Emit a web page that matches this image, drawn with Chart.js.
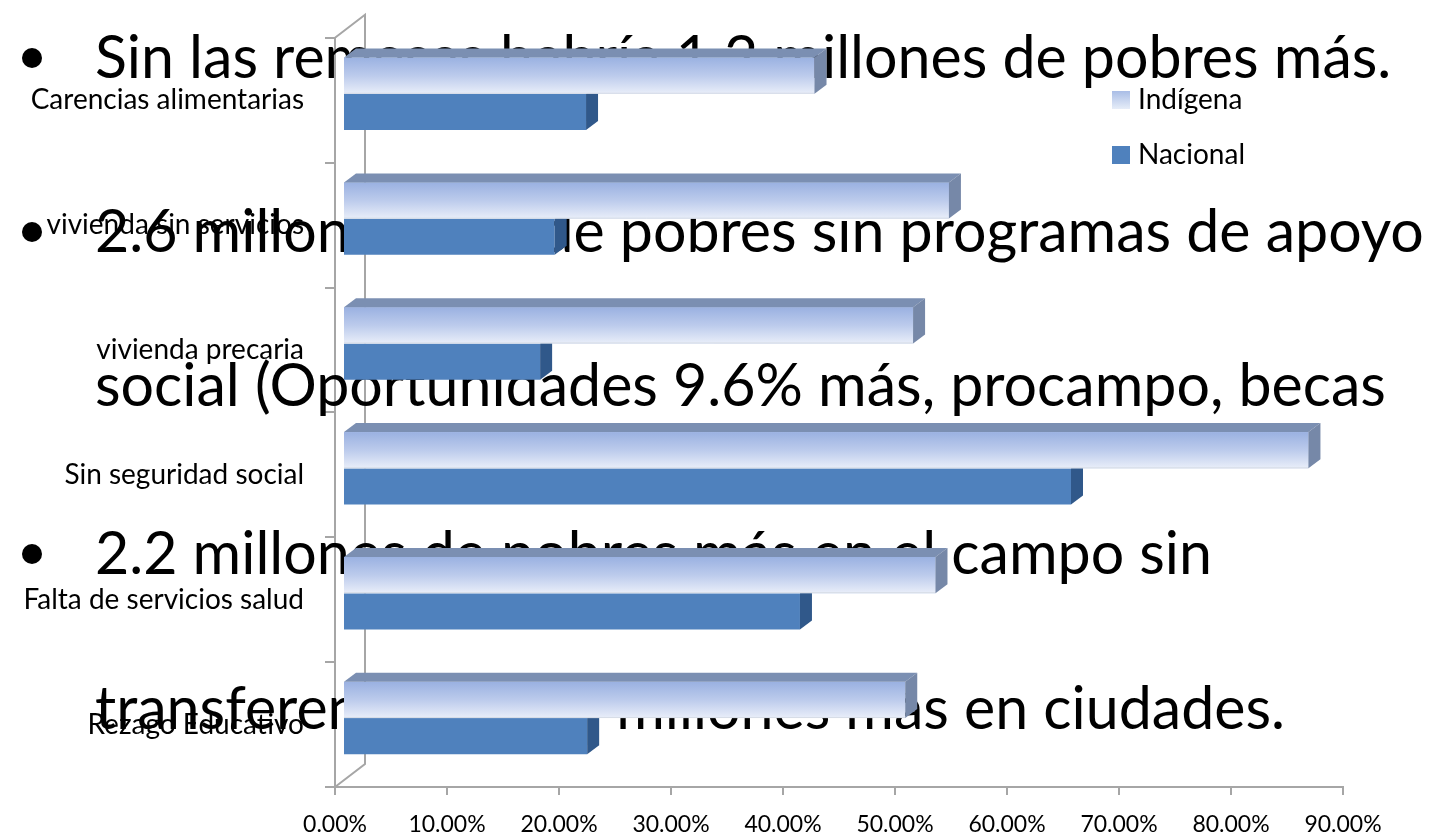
<!DOCTYPE html>
<html>
<head>
<meta charset="utf-8">
<script src="https://cdn.jsdelivr.net/npm/chart.js@4.4.1/dist/chart.umd.min.js"></script>
<style>
  html, body { margin: 0; padding: 0; background: #fff; }
  #chart { display: block; }
</style>
</head>
<body>
<canvas id="chart" width="1437" height="840"></canvas>
<script>
const categories = [
    'Carencias alimentarias',
    'vivienda sin servicios',
    'vivienda precaria',
    'Sin seguridad social',
    'Falta de servicios salud',
    'Rezago Educativo',
];
const indigena = [42.1, 54.1, 50.9, 86.2, 52.9, 50.2];
const nacional = [21.7, 18.9, 17.6, 65.0, 40.8, 21.8];
const tickValues = [0, 10, 20, 30, 40, 50, 60, 70, 80, 90];

// slide text sitting behind the bars
const slideLines = [
    'Sin las remesas habría 1.2 millones de pobres más.',
    '2.6 millones más de pobres sin programas de apoyo',
    'social (Oportunidades 9.6% más, procampo, becas',
    '2.2 millones de pobres más en el campo sin',
    'transferencias y 1.4 millones más en ciudades.',
];
const slideBullets = [true, true, false, true, false];
const slideBaselines = [78, 252, 406, 574, 729];

const grey = '#a6a6a6';
const depth = { x: 12, y: 9 };      // bar 3d depth
const wall = { x: 30, y: 23 };      // left wall depth
const shift = { x: 8, y: -6.5 };    // bars sit inside the box

const threeD = {
    id: 'threeD',
    beforeDatasetsDraw(chart) {
        const ctx = chart.ctx;
        const a = chart.chartArea;
        ctx.save();
        // left wall
        ctx.strokeStyle = grey;
        ctx.lineWidth = 2;
        ctx.beginPath();
        ctx.moveTo(a.left, a.top);
        ctx.lineTo(a.left + wall.x, a.top - wall.y);
        ctx.lineTo(a.left + wall.x, a.bottom - wall.y);
        ctx.lineTo(a.left, a.bottom);
        ctx.stroke();

        // slide text
        ctx.fillStyle = '#000';
        ctx.font = '54px Lato';
        const w = ctx.measureText(slideLines[1]).width;
        const fs = 54 * 1330 / w;
        ctx.font = fs.toFixed(1) + 'px Lato';
        ctx.textBaseline = 'alphabetic';
        slideLines.forEach((t, i) => {
            ctx.fillText(t, 95, slideBaselines[i]);
            if (slideBullets[i]) {
                ctx.beginPath();
                ctx.arc(32, slideBaselines[i] - 20, 10, 0, Math.PI * 2);
                ctx.fill();
            }
        });
        ctx.restore();

        ctx.save();
        ctx.translate(shift.x, shift.y);
    },
    afterDatasetsDraw(chart) {
        const ctx = chart.ctx;
        const mI = chart.getDatasetMeta(0);
        const mN = chart.getDatasetMeta(1);
        const poly = (pts, color) => {
            ctx.fillStyle = color;
            ctx.beginPath();
            ctx.moveTo(pts[0][0], pts[0][1]);
            pts.slice(1).forEach(p => ctx.lineTo(p[0], p[1]));
            ctx.closePath();
            ctx.fill();
        };
        categories.forEach((c, i) => {
            const n = mN.data[i];
            let x0 = n.base, x1 = n.x, yT = n.y - n.height / 2, yB = n.y + n.height / 2;
            poly([[x1, yT], [x1 + depth.x, yT - depth.y], [x1 + depth.x, yB - depth.y], [x1, yB]], '#30588a');

            const b = mI.data[i];
            x0 = b.base; x1 = b.x; yT = b.y - b.height / 2; yB = b.y + b.height / 2;
            const g = ctx.createLinearGradient(0, yT, 0, yB);
            g.addColorStop(0, '#9ab1e1');
            g.addColorStop(0.5, '#bccbec');
            g.addColorStop(1, '#e9eef9');
            ctx.fillStyle = g;
            ctx.fillRect(x0, yT, x1 - x0, yB - yT);
            ctx.strokeStyle = '#d6dce6';
            ctx.lineWidth = 1;
            ctx.beginPath();
            ctx.moveTo(x0, yB - 0.5);
            ctx.lineTo(x1, yB - 0.5);
            ctx.stroke();
            poly([[x0, yT], [x1, yT], [x1 + depth.x, yT - depth.y], [x0 + depth.x, yT - depth.y]], '#7b8fb2');
            poly([[x1, yT], [x1 + depth.x, yT - depth.y], [x1 + depth.x, yB - depth.y], [x1, yB]], '#7688a8');
        });
        ctx.restore();
    },
    afterDraw(chart) {
        // legend
        const ctx = chart.ctx;
        ctx.save();
        ctx.font = '28px Lato';
        ctx.textBaseline = 'middle';
        const items = [
            { label: chart.data.datasets[0].label, y: 100 },
            { label: chart.data.datasets[1].label, y: 155 },
        ];
        items.forEach((it, i) => {
            if (i === 0) {
                const g = ctx.createLinearGradient(0, it.y - 9, 0, it.y + 9);
                g.addColorStop(0, '#a9bde6');
                g.addColorStop(1, '#e6edf8');
                ctx.fillStyle = g;
            } else {
                ctx.fillStyle = '#4f81bd';
            }
            ctx.fillRect(1112, it.y - 9, 18, 18);
            ctx.fillStyle = '#000';
            ctx.fillText(it.label, 1138, it.y);
        });
        ctx.restore();
    },
};

const ctx = document.getElementById('chart').getContext('2d');

const chart = new Chart(ctx, {
    type: 'bar',
    data: {
        labels: categories,
        datasets: [
            { label: 'Indígena', data: indigena, backgroundColor: '#bccbec', borderWidth: 0 },
            { label: 'Nacional', data: nacional, backgroundColor: '#4f81bd', borderWidth: 0 },
        ],
    },
    options: {
        indexAxis: 'y',
        responsive: false,
        animation: false,
        categoryPercentage: 0.58,
        barPercentage: 1,
        layout: { padding: { top: 33, right: 94, left: 0, bottom: 0 } },
        plugins: {
            legend: { display: false },
            tooltip: { enabled: false },
        },
        scales: {
            x: {
                min: 0,
                max: 90,
                afterBuildTicks: (s) => { s.ticks = tickValues.map(v => ({ value: v })); },
                afterFit: (s) => { s.height = 53; },
                ticks: {
                    callback: (v) => Number(v).toFixed(2) + '%',
                    color: '#000',
                    font: { family: 'Lato', size: 23 },
                    padding: 16,
                    maxRotation: 0,
                },
                grid: { drawOnChartArea: false, tickLength: 8, color: grey, lineWidth: 2 },
                border: { display: true, color: grey, width: 2 },
            },
            y: {
                afterFit: (s) => { s.width = 335; },
                ticks: {
                    color: '#000',
                    font: { family: 'Lato', size: 28 },
                    padding: 21,
                },
                grid: { drawOnChartArea: false, tickLength: 10, color: grey, lineWidth: 2, offset: true },
                border: { display: true, color: grey, width: 2 },
            },
        },
    },
    plugins: [threeD],
});
</script>
</body>
</html>
